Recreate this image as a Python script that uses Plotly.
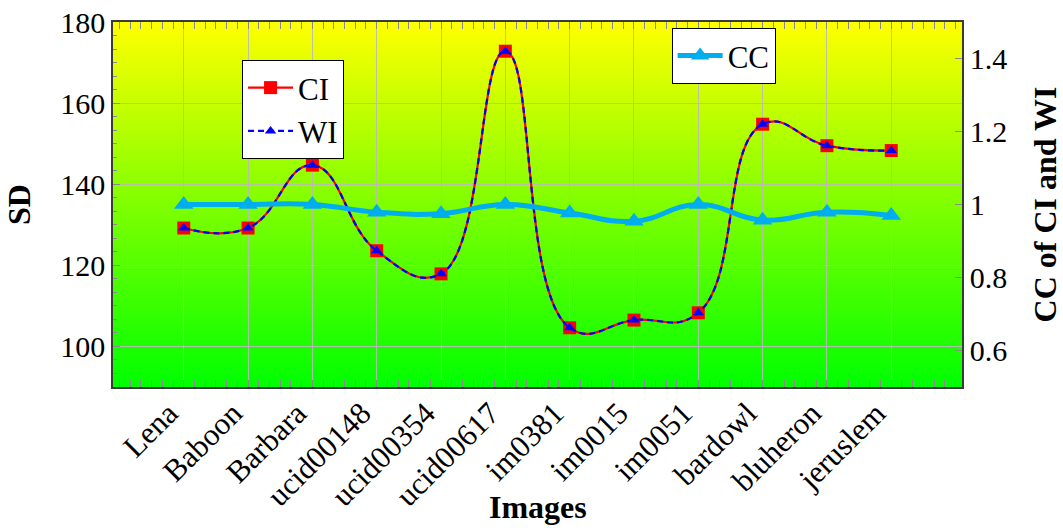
import plotly.graph_objects as go

images = ["Lena", "Baboon", "Barbara", "ucid00148", "ucid00354", "ucid00617",
          "im0381", "im0015", "im0051", "bardowl", "bluheron", "jeruslem"]
ci_sd = [129.2, 129.2, 144.7, 123.6, 117.9, 172.8, 104.6, 106.5, 108.3, 154.8, 149.5, 148.3]
wi_sd = [129.2, 129.2, 144.7, 123.6, 117.9, 172.8, 104.6, 106.5, 108.3, 154.8, 149.5, 148.3]
cc_values = [1.0, 1.0, 1.0, 0.979, 0.975, 1.0, 0.977, 0.954, 1.0, 0.957, 0.979, 0.970]
left_ticks = [100, 120, 140, 160, 180]
right_ticks = [0.6, 0.8, 1.0, 1.2, 1.4]
right_ticktext = ["0.6", "0.8", "1", "1.2", "1.4"]

xpos = list(range(len(images)))
FONT = "Liberation Serif"
TICK_SIZE = 30
XTICK_SIZE = 31
TITLE_SIZE = 32
LEGEND_SIZE = 31

fig = go.Figure()
fig.add_trace(go.Scatter(
    x=xpos, y=ci_sd, name="CI", mode="lines+markers",
    line=dict(color="red", width=2.2, shape="spline", smoothing=1.3),
    marker=dict(symbol="square", size=13, color="red"),
    legend="legend"))
fig.add_trace(go.Scatter(
    x=xpos, y=wi_sd, name="WI", mode="lines+markers",
    line=dict(color="blue", width=2.2, shape="spline", smoothing=1.3, dash="6px,4px"),
    marker=dict(symbol="triangle-up", size=10, color="blue"),
    legend="legend"))
fig.add_trace(go.Scatter(
    x=xpos, y=cc_values, name="CC", mode="lines+markers", yaxis="y2",
    line=dict(color="#00AEEF", width=5, shape="spline", smoothing=1.3),
    marker=dict(symbol="triangle-up", size=17, color="#00AEEF"),
    legend="legend2"))

# vertical yellow->green gradient background
shapes = []
n = 160
for i in range(n):
    t0 = i / n
    t1 = (i + 1) / n
    tm = (t0 + t1) / 2  # 0 bottom (green) -> 1 top (yellow)
    r = int(round(255 * tm))
    shapes.append(dict(type="rect", xref="paper", yref="paper",
                       x0=0, x1=1, y0=t0, y1=t1 + 0.002,
                       fillcolor=f"rgb({r},255,0)", line=dict(width=0),
                       layer="below"))

grid = "rgba(185,185,185,0.9)"
axis_line = "#3a3a3a"

fig.update_layout(
    width=1063, height=528,
    margin=dict(l=113, r=101, t=22, b=141),
    paper_bgcolor="white", plot_bgcolor="rgb(128,255,0)",
    font=dict(family=FONT, size=TICK_SIZE, color="black"),
    shapes=shapes,
    xaxis=dict(
        range=[-1.1, 12.1], tickmode="array", tickvals=xpos, ticktext=images,
        tickangle=-45, showgrid=True, gridcolor=grid, gridwidth=1, automargin=False,
        showline=True, linecolor=axis_line, linewidth=1.5, mirror="allticks",
        ticks="inside", ticklen=7, tickcolor="#8a8a8a", zeroline=False,
        tickfont=dict(family=FONT, size=XTICK_SIZE),
        ticklabelshift=-15, ticklabelstandoff=-6,
        minor=dict(dtick=1/6, tick0=0, ticks="inside", ticklen=4,
                   tickcolor="#8a8a8a", showgrid=False),
    ),
    yaxis=dict(
        range=[90, 180], tickmode="array", tickvals=left_ticks, automargin=False,
        showgrid=True, gridcolor=grid, gridwidth=1, zeroline=False,
        showline=True, linecolor=axis_line, linewidth=1.5, mirror=True,
        ticks="inside", ticklen=7, tickcolor="#8a8a8a",
        tickfont=dict(family=FONT, size=TICK_SIZE),
        minor=dict(dtick=20/6, tick0=80, ticks="inside", ticklen=4,
                   tickcolor="#8a8a8a", showgrid=False),
        title=dict(text="<b>SD</b>", font=dict(family=FONT, size=TITLE_SIZE), standoff=20),
    ),
    yaxis2=dict(
        overlaying="y", side="right", range=[0.5, 1.5], automargin=False,
        tickmode="array", tickvals=right_ticks, ticktext=right_ticktext,
        showgrid=False, zeroline=False, showline=True, linecolor=axis_line,
        linewidth=1.5, ticks="inside", ticklen=7, tickcolor="#8a8a8a",
        tickfont=dict(family=FONT, size=TICK_SIZE),
        title=dict(text="<b>CC of CI and WI</b>", font=dict(family=FONT, size=TITLE_SIZE), standoff=28),
    ),
    annotations=[dict(text="<b>Images</b>", xref="paper", yref="paper",
                      x=0.5, y=-0.329, xanchor="center", yanchor="middle",
                      showarrow=False, font=dict(family=FONT, size=TITLE_SIZE))],
    legend=dict(x=0.152, y=0.896, xanchor="left", yanchor="top",
                bgcolor="white", bordercolor="black", borderwidth=1,
                itemwidth=45,
                font=dict(family=FONT, size=LEGEND_SIZE), tracegroupgap=0),
    legend2=dict(x=0.658, y=0.984, xanchor="left", yanchor="top",
                 bgcolor="white", bordercolor="black", borderwidth=1,
                 itemwidth=45,
                 font=dict(family=FONT, size=LEGEND_SIZE)),
)

fig.write_html("out.html")
